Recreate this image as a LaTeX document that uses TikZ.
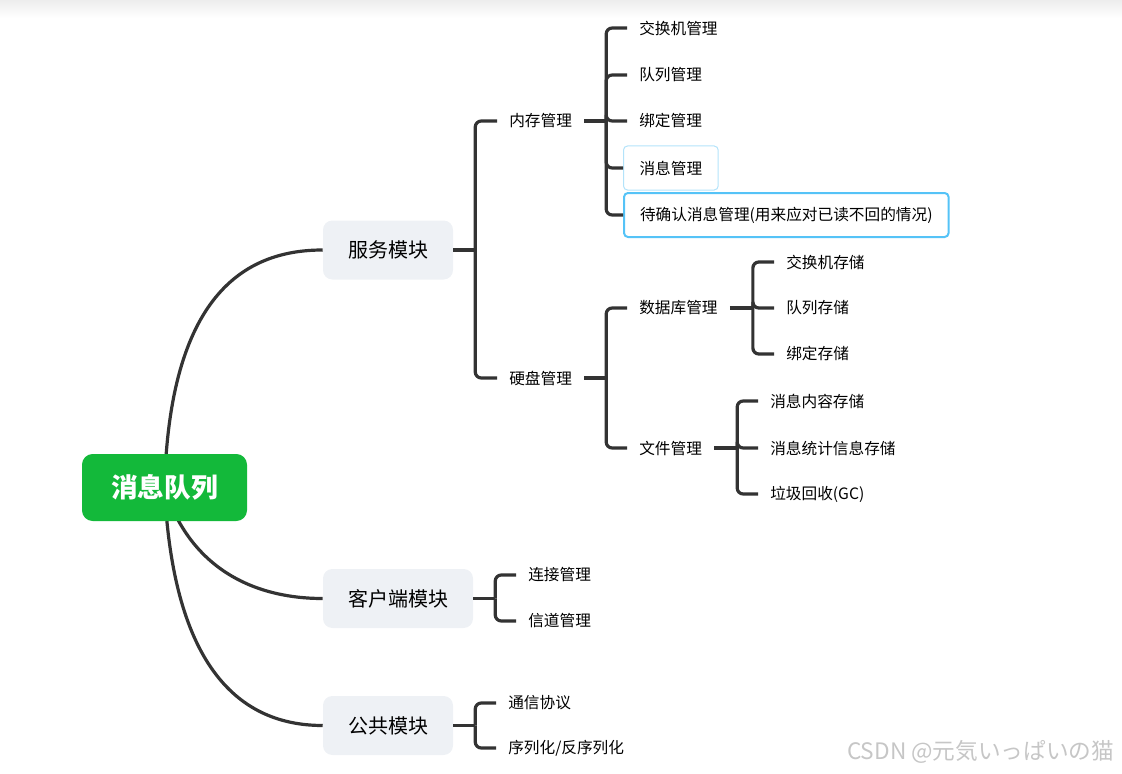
\documentclass[tikz,border=0pt]{standalone}
\usepackage{fontspec}
\setmainfont{Noto Sans CJK SC}
\newfontfamily\jpfont{Noto Sans CJK JP}
\usetikzlibrary{positioning, calc, backgrounds}
\definecolor{rootgreen}{HTML}{13B93A}
\definecolor{modfill}{HTML}{EEF1F5}
\definecolor{linegray}{HTML}{333333}
\definecolor{softblue}{HTML}{B3E3FA}
\definecolor{selblue}{HTML}{55C3F7}

\begin{document}
\begin{tikzpicture}[x=0.75pt, y=-0.75pt,
    root/.style={fill=rootgreen, rounded corners=8pt, minimum width=123.75pt, minimum height=50.25pt, text=white, font=\fontsize{20}{24}\selectfont\bfseries},
    module/.style={fill=modfill, rounded corners=7pt, minimum width=#1, minimum height=44.25pt, font=\fontsize{15}{18}\selectfont},
    module/.default=97.5pt,
    leaf/.style={anchor=west, inner xsep=9pt, inner ysep=3pt, font=\fontsize{11.75}{14}\selectfont},
    hilite/.style={leaf, draw=#1, rounded corners=3pt, inner xsep=12pt, minimum height=33pt},
    curve/.style={line width=2.4pt, linegray},
    branch/.style={line width=2.4pt, linegray, rounded corners=4.5pt},
]
\useasboundingbox (0,0) rectangle (1122,774);

% Root and modules
\node[root] (mq) at (164.5,487.5) {消息队列};
\node[module] (svc) at (388,250) {服务模块};
\node[module=112.5pt] (cli) at (398,598.5) {客户端模块};
\node[module] (pub) at (388,725.5) {公共模块};

% --- 服务模块 ---
\node[leaf] (mem) at (497,121) {内存管理};
\node[leaf] (disk) at (497,378) {硬盘管理};
\coordinate (svcJ) at ($(svc.east)+(22,0)$);
\draw[branch] (svc.east) -- (svcJ);
\foreach \c in {mem,disk} \draw[branch] (\c.west) -| (svcJ);

% 内存管理
\node[leaf] (exch) at (627,28) {交换机管理};
\node[leaf] (queue) at (627,75) {队列管理};
\node[leaf] (bind) at (627,121) {绑定管理};
\node[hilite=softblue, line width=0.75pt] (msg) at (623,168) {消息管理};
\node[hilite=selblue, line width=1.5pt] (ack) at (623,215) {待确认消息管理(用来应对已读不回的情况)};
\coordinate (memJ) at ($(mem.east)+(22,0)$);
\draw[branch] (mem.east) -- (memJ);
\foreach \c in {exch,queue,bind,msg,ack} \draw[branch] (\c.west) -| (memJ);

% 硬盘管理
\node[leaf] (db) at (627,308) {数据库管理};
\node[leaf] (file) at (627,448) {文件管理};
\coordinate (diskJ) at ($(disk.east)+(22,0)$);
\draw[branch] (disk.east) -- (diskJ);
\foreach \c in {db,file} \draw[branch] (\c.west) -| (diskJ);

% 数据库管理
\node[leaf] (exchS) at (774,262) {交换机存储};
\node[leaf] (queueS) at (774,308) {队列存储};
\node[leaf] (bindS) at (774,354) {绑定存储};
\coordinate (dbJ) at ($(db.east)+(23,0)$);
\draw[branch] (db.east) -- (dbJ);
\foreach \c in {exchS,queueS,bindS} \draw[branch] (\c.west) -| (dbJ);

% 文件管理
\node[leaf] (body) at (758,401) {消息内容存储};
\node[leaf] (stat) at (758,448) {消息统计信息存储};
\node[leaf] (gc) at (758,494) {垃圾回收(GC)};
\coordinate (fileJ) at ($(file.east)+(23,0)$);
\draw[branch] (file.east) -- (fileJ);
\foreach \c in {body,stat,gc} \draw[branch] (\c.west) -| (fileJ);

% --- 客户端模块 ---
\node[leaf] (conn) at (516,575) {连接管理};
\node[leaf] (chan) at (516,621) {信道管理};
\coordinate (cliJ) at ($(cli.east)+(22,0)$);
\draw[branch] (cli.east) -- (cliJ);
\foreach \c in {conn,chan} \draw[branch] (\c.west) -| (cliJ);

% --- 公共模块 ---
\node[leaf] (proto) at (496,703) {通信协议};
\node[leaf] (ser) at (496,748) {序列化/反序列化};
\coordinate (pubJ) at ($(pub.east)+(22,0)$);
\draw[branch] (pub.east) -- (pubJ);
\foreach \c in {proto,ser} \draw[branch] (\c.west) -| (pubJ);

% Watermark
\node[anchor=east, text=gray!45, font=\jpfont\fontsize{17}{20}\selectfont] (mark) at (1119,752) {CSDN @元気いっぱいの猫};

% Curves from the root, behind the boxes
\begin{scope}[on background layer]
\shade[top color=black!7, bottom color=white] (0,0) rectangle (1122,18);
\draw[curve] (mq.center) .. controls +(5,-190) and +(-80,0) .. (svc.west);
\draw[curve] (mq.center) .. controls +(25,80) and +(-70,0) .. (cli.west);
\draw[curve] (mq.center) .. controls +(8,170) and +(-90,0) .. (pub.west);
\end{scope}
\end{tikzpicture}
\end{document}
